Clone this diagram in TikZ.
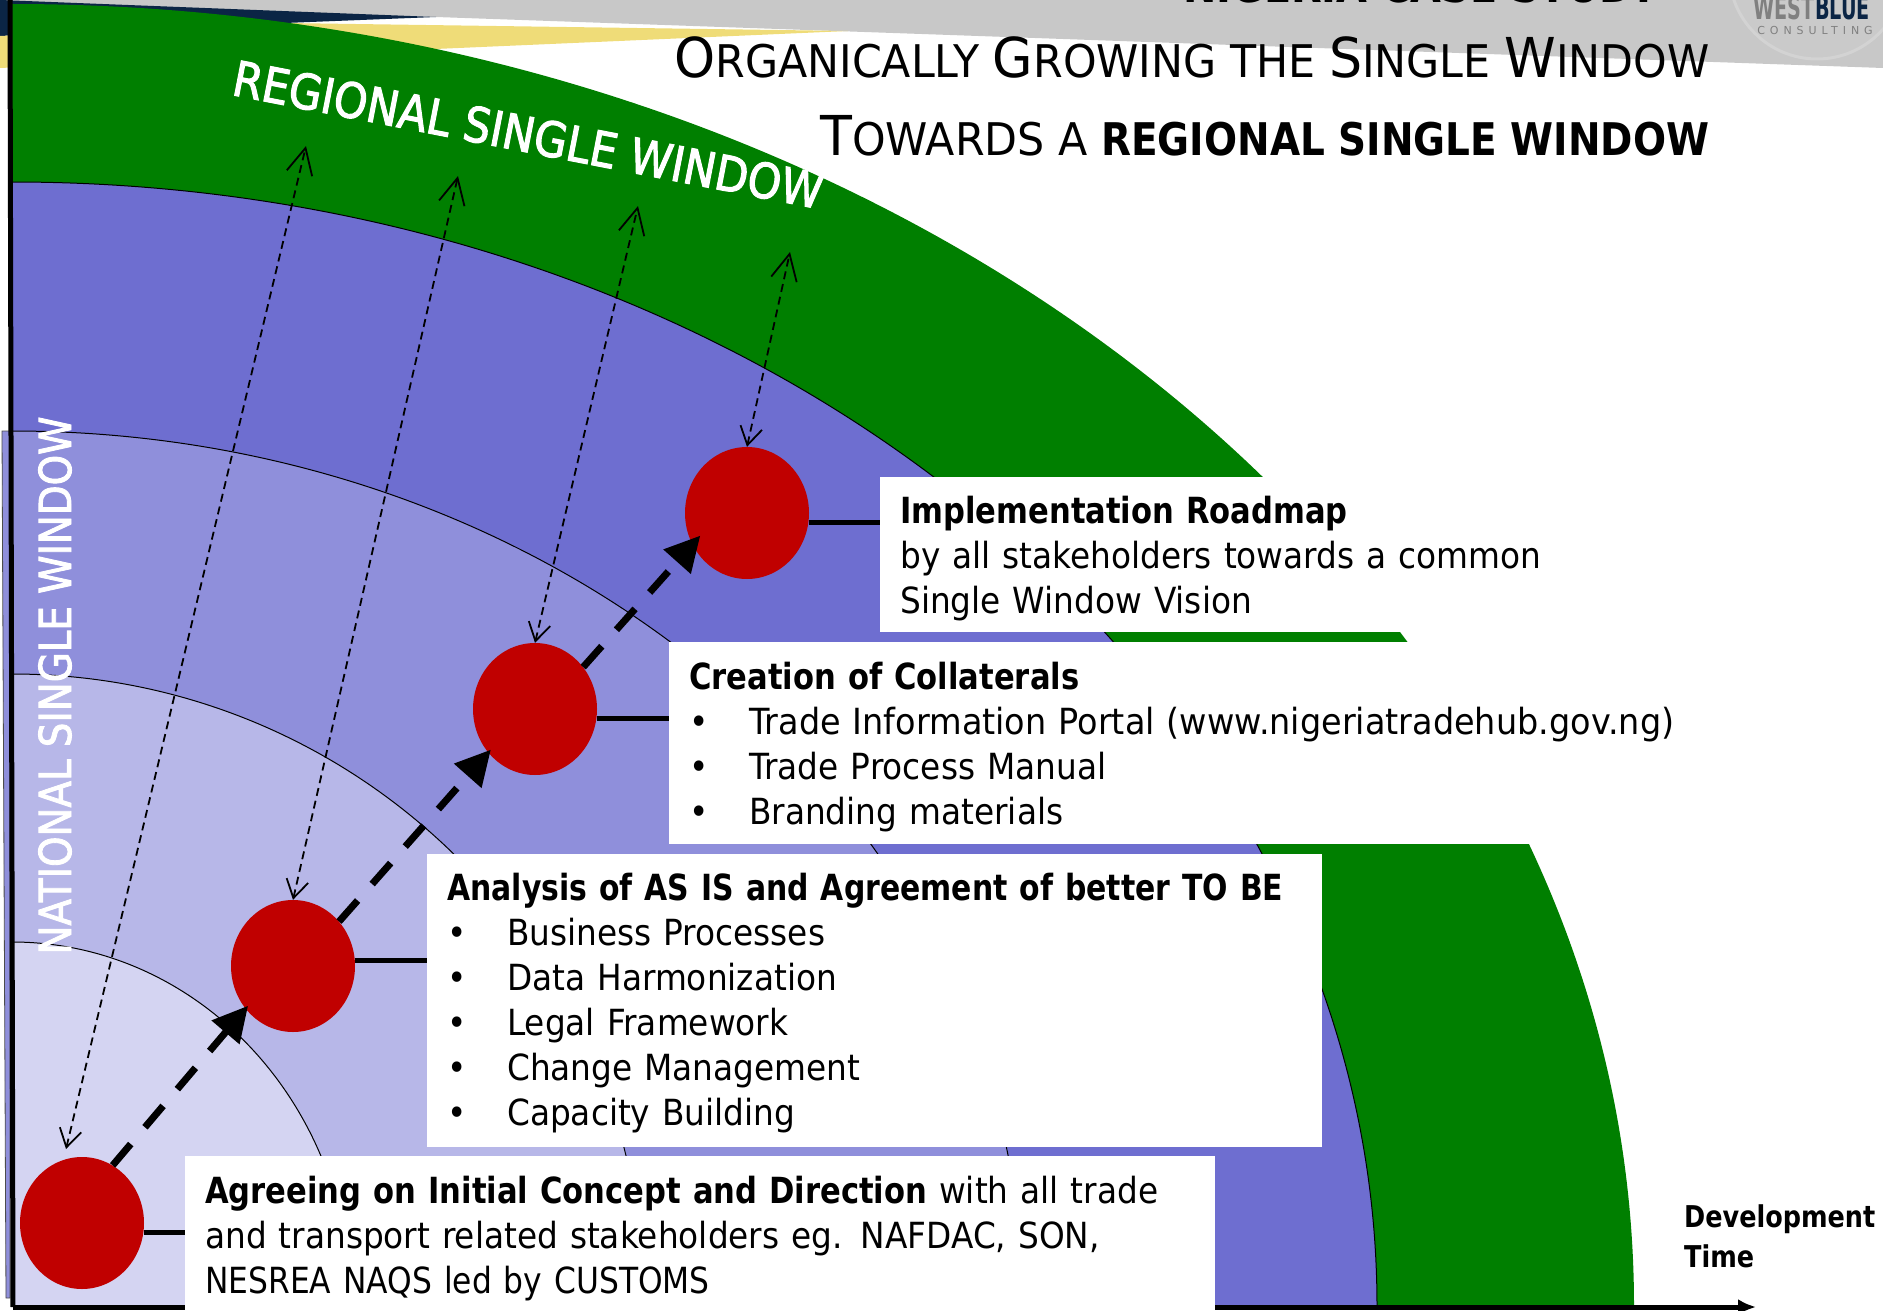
\documentclass[tikz,border=0pt]{standalone}
\usepackage{fontspec}
\setmainfont[FakeStretch=0.91, BoldFeatures={FakeStretch=0.85}]{DejaVu Sans}
\newfontfamily\titlefont[FakeStretch=0.95, BoldFeatures={FakeStretch=0.866}]{DejaVu Sans}
\newfontfamily\bandfont[FakeStretch=0.88, FakeBold=2]{DejaVu Sans}
\newfontfamily\logofont[FakeStretch=0.6]{DejaVu Sans}
\newfontfamily\logosubfont[LetterSpace=45]{DejaVu Sans}
\newfontfamily\headfont[FakeStretch=0.83]{DejaVu Sans}
\newfontfamily\widefont[FakeStretch=0.93]{DejaVu Sans}
\newfontfamily\capsfont[FakeStretch=0.87]{DejaVu Sans}
\usetikzlibrary{shapes.geometric,arrows.meta}

\definecolor{greenband}{HTML}{007F00}
\definecolor{bandA}{HTML}{D4D4F2}
\definecolor{bandB}{HTML}{B7B7E8}
\definecolor{bandC}{HTML}{8F8FDB}
\definecolor{bandD}{HTML}{6E6ED0}
\definecolor{reddot}{HTML}{C00000}
\definecolor{navy}{HTML}{0B2545}
\definecolor{gold}{HTML}{EFDC78}
\definecolor{slide}{HTML}{C8C8C8}

\tikzset{
    dot/.style={ellipse, fill=reddot, inner sep=0pt, minimum width=124pt, minimum height=132pt},
    card/.style={fill=white, inner ysep=0pt, inner xsep=0pt, align=left, font=\fontsize{36}{45}\selectfont},
    stalk/.style={line width=5pt},
    leap/.style={line width=7pt, dash pattern=on 28pt off 22pt, -{Triangle[length=35pt,width=35pt]}},
    reach/.style={line width=1.8pt, dash pattern=on 8pt off 5pt,
        {Straight Barb[length=18pt,width=22pt]}-{Straight Barb[length=26pt,width=26pt]}},
    axisline/.style={line width=5pt}
}
\newcommand{\bul}[1]{\makebox[60pt][l]{\textbullet}#1}
\newcommand{\pad}[1]{\rule{0pt}{#1pt}}
\newcommand{\sectorfill}[3]{\filldraw[fill=#1, draw=black, line width=1pt] (12,1306) -- (12,1306-#3) arc[start angle=90, end angle=0, x radius=#2pt, y radius=#3pt] -- cycle;}
\newcommand{\bigc}[1]{{\fontsize{55}{55}\selectfont #1}}

\begin{document}
\begin{tikzpicture}[x=1pt, y=-1pt]
    \useasboundingbox (0,0) rectangle (1883,1311);
    \clip (0,0) rectangle (1883,1311);

    % slide background
    \fill[slide] (0,0) -- (1883,0) -- (1883,68) -- (950,35) -- (436,17) -- (0,4) -- cycle;
    \fill[navy] (0,0) -- (436,17) -- (285,23) -- (0,36) -- cycle;
    \fill[gold] (0,36) -- (285,23) -- (848,31) -- (0,68) -- cycle;
    \draw[slide!80!white, fill=slide!96!white, line width=3pt] (1817,-29) circle (88pt);

    \node[font=\fontsize{46}{46}\titlefont\bfseries, anchor=base east] (caseTitle) at (1662,3) {NIGERIA CASE STUDY};
    \node[font=\fontsize{32}{32}\logofont\bfseries, anchor=base east, inner sep=0pt, text=gray] (logoWest) at (1815,20) {WEST};
    \node[font=\fontsize{32}{32}\logofont\bfseries, anchor=base west, inner sep=0pt, text=navy] (logoBlue) at (logoWest.base east) {BLUE};
    \node[font=\fontsize{11}{11}\logosubfont, anchor=base, inner sep=0pt, text=gray] (logoSub) at (1815,35) {CONSULTING};

    % bands
    \fill[greenband] (12,1306) -- (12,4) arc[start angle=90, end angle=0, x radius=1622pt, y radius=1302pt] -- cycle;
    \sectorfill{bandD}{1365}{1124}
    \filldraw[fill=bandC, draw=black!70, line width=0.8pt] (2,431) -- (10,431) -- (10,1298) -- (6,1298) -- cycle;
    \sectorfill{bandC}{1011}{875}
    \sectorfill{bandB}{632}{632}
    \sectorfill{bandA}{339}{364}

    % axes
    \coordinate (axisTop) at (10,0);
    \coordinate (axisOrigin) at (13,1307);
    \coordinate (axisEnd) at (1756,1307);
    \draw[axisline] (axisTop) -- (axisOrigin);
    \draw[axisline, -{Latex[length=18pt,width=16pt]}] (axisOrigin) -- (axisEnd);

    % steps
    \node[dot] (stepA) at (82,1223) {};
    \node[dot] (stepB) at (293,966) {};
    \node[dot] (stepC) at (535,709) {};
    \node[dot] (stepD) at (747,513) {};

    \coordinate (footA) at (66,1149);
    \coordinate (reachA) at (306,146);
    \coordinate (reachB) at (458,176);
    \coordinate (reachC) at (638,206);
    \coordinate (reachD) at (790,252);
    \draw[reach] (footA) -- (reachA);
    \foreach \i/\j in {stepB/reachB, stepC/reachC, stepD/reachD}
        \draw[reach] (\i.north) -- (\j);

    \draw[leap, shorten >=-4pt] (stepA.62) -- (stepB.222);
    \draw[leap, shorten >=-4pt] (stepB.44) -- (stepC.223);
    \draw[leap, shorten >=-12pt] (stepC.41) -- (stepD.210);

    % stalks
    \coordinate (stalkA) at (190,1232);
    \coordinate (stalkB) at (430,960);
    \coordinate (stalkC) at (672,718);
    \coordinate (stalkD) at (883,522);
    \draw[stalk] (stepA.east |- stalkA) -- (stalkA);
    \draw[stalk] (stepB.east |- stalkB) -- (stalkB);
    \draw[stalk] (stepC.east |- stalkC) -- (stalkC);
    \draw[stalk] (stepD.east |- stalkD) -- (stalkD);

    % cards
    \node[card, anchor=north west, minimum width=700pt, minimum height=155pt, text width=660pt] (cardD) at (880,477)
        {\pad{35}\textbf{Implementation Roadmap}\\ by all stakeholders towards a common\\ Single Window Vision};
    \node[card, anchor=north west, minimum width=1100pt, minimum height=202pt, text width=1060pt] (cardC) at (669,642)
        {\pad{35}\textbf{Creation of Collaterals}\\ \bul{{\widefont Trade Information Portal (www.nigeriatradehub.gov.ng)}}\\ \bul{Trade Process Manual}\\ \bul{Branding materials}};
    \node[card, anchor=north west, minimum width=895pt, minimum height=293pt, text width=855pt] (cardB) at (427,854)
        {\pad{33}{\headfont\bfseries Analysis of AS IS and Agreement of better TO BE}\\ \bul{Business Processes}\\ \bul{Data Harmonization}\\ \bul{Legal Framework}\\ \bul{Change Management}\\ \bul{Capacity Building}};
    \node[card, anchor=north west, minimum width=1030pt, minimum height=165pt, text width=990pt] (cardA) at (185,1156)
        {\textbf{Agreeing on Initial Concept and Direction} with all trade\\ and transport related stakeholders eg. NAFDAC, SON,\\ {\capsfont NESREA NAQS led by CUSTOMS}};

    % band and slide labels
    \node[text=white, rotate=90, anchor=base west, font=\fontsize{44}{44}\bandfont] (nationalLabel) at (71,958) {NATIONAL SINGLE WINDOW};
    \node[text=white, rotate=-11, anchor=base west, font=\fontsize{48.6}{48.6}\bandfont] (regionalLabel) at (227,94) {REGIONAL SINGLE WINDOW};
    \node[anchor=base east, font=\fontsize{45}{45}\titlefont] (titleOne) at (1713,78)
        {\bigc{O}RGANICALLY \bigc{G}ROWING THE \bigc{S}INGLE \bigc{W}INDOW};
    \node[anchor=base east, font=\fontsize{45}{45}\titlefont] (titleTwo) at (1713,156)
        {\bigc{T}OWARDS A \textbf{REGIONAL SINGLE WINDOW}};
    \node[anchor=north west, align=left, font=\fontsize{30}{40}\selectfont\bfseries, inner sep=0pt] (devLabel) at (1684,1204)
        {Development\\ Time};
\end{tikzpicture}
\end{document}
